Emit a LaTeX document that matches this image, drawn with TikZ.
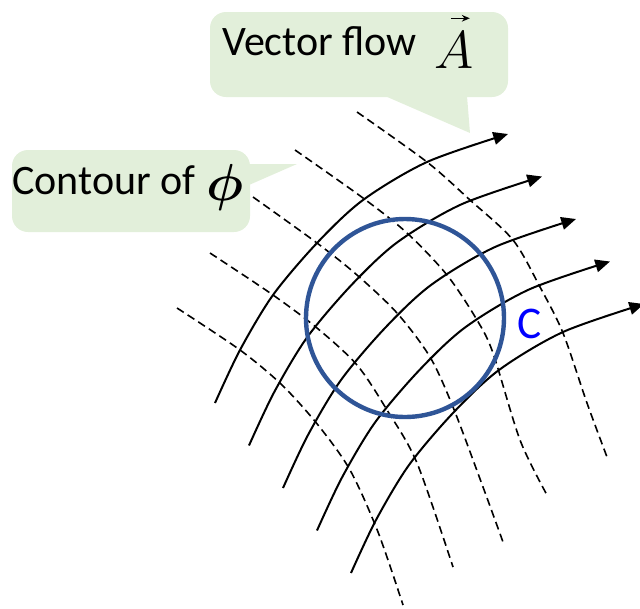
\RequirePackage{fix-cm}
\documentclass[tikz,border=0pt]{standalone}
\usepackage{bm}
\usepackage{fontspec}
\setmainfont{Carlito}
\usetikzlibrary{arrows.meta}
\definecolor{callgreen}{RGB}{226,239,218}
\definecolor{circblue}{RGB}{47,85,151}
\begin{document}
\begin{tikzpicture}[x=0.75pt,y=-0.75pt,
  flow/.style={line width=1.5pt, -{Triangle[length=11pt,width=9.5pt]}},
  contour/.style={line width=1.2pt, dash pattern=on 6pt off 3.5pt},
  callout/.style={fill=callgreen},
  lbl/.style={font=\fontsize{31.5}{36}\selectfont, inner sep=0pt}]
\useasboundingbox (0,0) rectangle (640,608);
\clip (0,0) rectangle (640,608);
% callouts
\fill[callout, rounded corners=12] (210,12) rectangle (508,97);
\fill[callout] (385,96) -- (467,96) -- (470,133) -- cycle;
\fill[callout, rounded corners=12] (12,150) rectangle (250,232);
\fill[callout] (249,164) -- (297,164) -- (249,185) -- cycle;
\node[lbl, anchor=base west] (vf) at (222,55) {Vector flow};
\node[inner sep=0pt, anchor=base west, font=\fontsize{40}{40}\selectfont] (A) at (434,68) {$A$};
\draw[line width=0.9pt, -{Stealth[length=6pt,width=5pt]}] ([shift={(-3,-13)}]A.north) -- ([shift={(16,-13)}]A.north);
\node[lbl, anchor=base west] (co) at (12,194) {Contour of};
\node[inner sep=0pt, anchor=base west, font=\fontsize{39}{39}\selectfont] (phi) at (206,200) {$\bm{\phi}$};
% contour lines
\draw[contour] plot[smooth] coordinates {(357,112) (427,162) (470,200) (513,240) (540,287) (563,333) (587,403) (607,457)};
\draw[contour] plot[smooth] coordinates {(295,150) (363,198) (407,233) (447,275) (477,320) (493,353) (520,440) (547,495)};
\draw[contour] plot[smooth] coordinates {(253,197) (317,243) (357,275) (397,313) (430,357) (453,407) (483,487) (503,542)};
\draw[contour] plot[smooth] coordinates {(210,253) (273,295) (317,328) (357,365) (387,410) (417,463) (453,567)};
\draw[contour] plot[smooth] coordinates {(177,308) (240,350) (282,385) (318,425) (350,470) (378,532) (403,605)};
% flow lines
\foreach \dx/\dy in {0/0, 34/42.5, 68/85, 102/127.5, 136/170}
  \draw[flow, shift={(\dx,\dy)}] plot[smooth] coordinates {(215,403) (240,350) (273,295) (317,243) (363,200) (427,162) (508,134)};
% circle C
\draw[circblue, line width=3.3pt] (405,318) circle (99);
\node[lbl, text=blue, anchor=base west, font=\fontsize{34}{36}\selectfont] (C) at (517,338) {C};
\end{tikzpicture}
\end{document}
